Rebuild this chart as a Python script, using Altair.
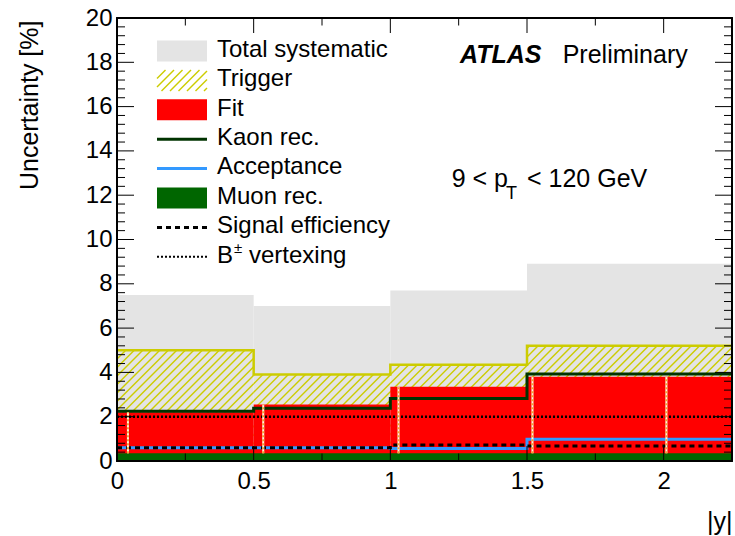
import altair as alt
import numpy as np
import pandas as pd

FONT = "Liberation Sans"

# |y| bin edges and per-bin uncertainty of each source [%]
edges = [0.0, 0.5, 1.0, 1.5, 2.25]
total_syst = [7.5, 7.0, 7.7, 8.9]
trigger = [5.0, 3.9, 4.35, 5.2]
fit = [2.2, 2.55, 3.35, 3.8]
kaon_rec = [2.25, 2.38, 2.82, 3.93]
acceptance = [0.6, 0.6, 0.57, 0.98]
muon_rec = [0.35, 0.35, 0.35, 0.35]
signal_eff = [0.6, 0.6, 0.72, 0.68]
b_vertexing = [2.0, 2.0, 2.0, 2.0]
# dotted verticals drawn on the fit band
fit_marker_x = [0.04, 0.535, 1.03, 1.52, 2.01]

x_tick_labels = [0, 0.5, 1, 1.5, 2]
y_tick_labels = list(range(0, 21, 2))

legend_labels = ["Total systematic", "Trigger", "Fit", "Kaon rec.",
                 "Acceptance", "Muon rec.", "Signal efficiency", "B"]

# colours
GRAY = "#e4e4e4"
YELLOW = "#cccc00"
RED = "#ff0000"
KAON = "#003300"
BLUE = "#3399ff"
GREEN = "#006600"

# plot area
W, H = 615, 443
X_MAX, Y_MAX = 2.25, 20

xs = alt.Scale(domain=[0, X_MAX], nice=False, zero=False)
ys = alt.Scale(domain=[0, Y_MAX], nice=False, zero=False)

x_axis = alt.Axis(values=x_tick_labels, format="~g", ticks=False, tickSize=0,
                  domain=False, grid=False, labelFont=FONT, labelFontSize=24,
                  labelColor="black", labelPadding=8, labelFlush=False,
                  labelOverlap=False, title="|y|", titleFont=FONT,
                  titleFontSize=25, titleFontWeight="normal", titleColor="black",
                  titleX=W, titleY=68, titleAlign="right",
                  titleBaseline="alphabetic", titleAnchor="end")
y_axis = alt.Axis(values=y_tick_labels, ticks=False, tickSize=0, domain=False,
                  grid=False, labelFont=FONT, labelFontSize=24,
                  labelColor="black", labelPadding=5, labelFlush=False,
                  labelOverlap=False, title="Uncertainty [%]", titleFont=FONT,
                  titleFontSize=25, titleFontWeight="normal", titleColor="black",
                  titleAngle=-90, titleX=-80, titleY=2, titleAlign="right",
                  titleBaseline="alphabetic", titleAnchor="end")


def X(f):
    return alt.X(f, type="quantitative", scale=xs, axis=x_axis)


def Y(f):
    return alt.Y(f, type="quantitative", scale=ys, axis=y_axis)


bins = pd.DataFrame({
    "lo": edges[:-1], "hi": edges[1:], "zero": 0.0,
    "total": total_syst, "trigger": trigger, "fit": fit, "muon": muon_rec,
})


def band(field, color):
    return alt.Chart(bins).mark_rect(color=color, strokeWidth=0).encode(
        x=X("lo"), x2=alt.X2("hi"), y=Y(field), y2=alt.Y2("zero"))


def step_line(vals, color, width, dash=None):
    df = pd.DataFrame({"x": edges, "v": list(vals) + [vals[-1]]})
    kw = dict(color=color, strokeWidth=width, interpolate="step-after")
    if dash:
        kw["strokeDash"] = dash
    return alt.Chart(df).mark_line(**kw).encode(x=X("x"), y=Y("v"))


# 45-degree hatching of the trigger histogram, clipped to each bin
HATCH_PX = 8.5
px_x, px_y = W / X_MAX, H / Y_MAX
k = px_x / px_y
d = HATCH_PX / px_x
hatch = []
for lo, hi, top in zip(edges[:-1], edges[1:], trigger):
    w = top / k
    for n in range(int(np.floor((lo - w) / d)), int(np.ceil(hi / d)) + 1):
        c = n * d
        a, b = max(lo, c), min(hi, c + w)
        if b > a:
            hatch.append({"x0": a, "y0": k * (a - c), "x1": b, "y1": k * (b - c)})
hatch_df = pd.DataFrame(hatch)

hatch_layer = alt.Chart(hatch_df).mark_rule(color=YELLOW, strokeWidth=1.4).encode(
    x=X("x0"), y=Y("y0"), x2=alt.X2("x1"), y2=alt.Y2("y1"))

# dotted verticals spanning the fit band
fm = []
for xv in fit_marker_x:
    i = min(int(np.searchsorted(edges, xv, side="right")) - 1, len(fit) - 1)
    fm.append({"x": xv, "lo": muon_rec[i], "hi": fit[i]})
fm_df = pd.DataFrame(fm)
fm_base = alt.Chart(fm_df).mark_rule(color="#fff4e0", strokeWidth=2).encode(
    x=X("x"), y=Y("lo"), y2=alt.Y2("hi"))
fm_dots = alt.Chart(fm_df).mark_rule(color="#f0a030", strokeWidth=2,
                                     strokeDash=[2, 2]).encode(
    x=X("x"), y=Y("lo"), y2=alt.Y2("hi"))

# inward ticks on all four sides
y_major = np.arange(0, Y_MAX + 1e-9, 2.0)
y_minor = [v for v in np.arange(0, Y_MAX + 1e-9, 0.4)
           if abs(v / 2.0 - round(v / 2.0)) > 1e-6]
x_major = np.arange(0, X_MAX + 1e-9, 0.5)
x_minor = [v for v in np.arange(0, X_MAX - 1e-9, 0.25)
           if abs(v / 0.5 - round(v / 0.5)) > 1e-6]


def yticks(vals, length):
    df = pd.DataFrame({"v": vals})
    base = alt.Chart(df).mark_rule(color="black", strokeWidth=1)
    return (base.encode(y=Y("v"), x=alt.value(0), x2=alt.value(length))
            + base.encode(y=Y("v"), x=alt.value(W - length), x2=alt.value(W)))


def xticks(vals, length):
    df = pd.DataFrame({"v": vals})
    base = alt.Chart(df).mark_rule(color="black", strokeWidth=1)
    return (base.encode(x=X("v"), y=alt.value(H), y2=alt.value(H - length))
            + base.encode(x=X("v"), y=alt.value(0), y2=alt.value(length)))


frame = alt.Chart(bins).mark_rect(fillOpacity=0, stroke="black",
                                  strokeWidth=1.5).encode(
    x=alt.value(0), x2=alt.value(W), y=alt.value(0), y2=alt.value(H))

# legend (pixel positions inside the plot area)
LX0, LX1, LTX = 40, 90, 100
LY0, LDY, BOX_H = 33, 29.4, 21
leg = pd.DataFrame({"label": legend_labels, "row": range(len(legend_labels))})
leg["yc"] = LY0 + leg["row"] * LDY
leg["ytop"] = leg["yc"] - BOX_H / 2
leg["ybot"] = leg["yc"] + BOX_H / 2
leg["ybase"] = leg["yc"] + 5.7
leg["fill"] = [GRAY, "none", RED, KAON, BLUE, GREEN, "black", "black"]

leg_boxes = alt.Chart(leg[leg["row"].isin([0, 2, 5])]).mark_rect(strokeWidth=0).encode(
    x=alt.value(LX0), x2=alt.value(LX1),
    y=alt.Y("ytop:Q", scale=None), y2=alt.Y2("ybot"),
    color=alt.Color("fill:N", scale=None))
leg_solid = alt.Chart(leg[leg["row"].isin([3, 4])]).mark_rule(strokeWidth=3).encode(
    x=alt.value(LX0), x2=alt.value(LX1), y=alt.Y("yc:Q", scale=None),
    color=alt.Color("fill:N", scale=None))
leg_dash = alt.Chart(leg[leg["row"] == 6]).mark_rule(
    strokeWidth=3, color="black", strokeDash=[5, 4]).encode(
    x=alt.value(LX0), x2=alt.value(LX1), y=alt.Y("yc:Q", scale=None))
leg_dot = alt.Chart(leg[leg["row"] == 7]).mark_rule(
    strokeWidth=2, color="black", strokeDash=[2, 2]).encode(
    x=alt.value(LX0), x2=alt.value(LX1), y=alt.Y("yc:Q", scale=None))

# hatched legend swatch
trow = leg[leg["row"] == 1].iloc[0]
ht, hb = trow["ytop"], trow["ybot"]
hh = hb - ht
lh = []
c = LX0 - hh
while c < LX1:
    a, b = max(LX0, c), min(LX1, c + hh)
    if b > a:
        lh.append({"px0": a, "py0": hb - (a - c), "px1": b, "py1": hb - (b - c)})
    c += HATCH_PX
leg_hatch = alt.Chart(pd.DataFrame(lh)).mark_rule(color=YELLOW, strokeWidth=1.4).encode(
    x=alt.X("px0:Q", scale=None), y=alt.Y("py0:Q", scale=None),
    x2=alt.X2("px1"), y2=alt.Y2("py1"))

leg_text = alt.Chart(leg).mark_text(
    align="left", baseline="alphabetic", font=FONT, fontSize=24, color="black").encode(
    x=alt.value(LTX), y=alt.Y("ybase:Q", scale=None), text="label:N")

vrow = leg[leg["row"] == 7].iloc[0]
leg_pm = alt.Chart(bins.head(1)).mark_text(
    text="\u00b1", align="left", baseline="alphabetic", font=FONT, fontSize=15,
    color="black").encode(x=alt.value(LTX + 17), y=alt.value(vrow["ybase"] - 10))
leg_vtx = alt.Chart(bins.head(1)).mark_text(
    text="vertexing", align="left", baseline="alphabetic", font=FONT, fontSize=24,
    color="black").encode(x=alt.value(LTX + 32), y=alt.value(vrow["ybase"]))


def label(txt, x, y, size=25, **kw):
    return alt.Chart(bins.head(1)).mark_text(
        text=txt, align="left", baseline="alphabetic", font=FONT,
        fontSize=size, color="black", **kw).encode(x=alt.value(x), y=alt.value(y))


atlas = label("ATLAS", 343, 45.3, fontWeight="bold", fontStyle="italic")
prelim = label("Preliminary", 445.7, 45.3)
pt1 = label("9 < p", 334.7, 168.7)
pt2 = label("T", 389, 180.5, size=18)
pt3 = label("< 120 GeV", 410, 168.7)

chart = alt.layer(
    band("total", GRAY),
    hatch_layer,
    step_line(trigger, YELLOW, 2.5),
    band("fit", RED),
    band("muon", GREEN),
    step_line(kaon_rec, KAON, 3),
    step_line(acceptance, BLUE, 3),
    step_line(signal_eff, "black", 3, dash=[5, 4]),
    step_line(b_vertexing, "black", 2.5, dash=[2, 2]),
    fm_base, fm_dots,
    yticks(y_major, 17), yticks(y_minor, 8),
    xticks(x_major, 15), xticks(x_minor, 7.5),
    frame,
    leg_boxes, leg_hatch, leg_solid, leg_dash, leg_dot, leg_text, leg_pm, leg_vtx,
    atlas, prelim, pt1, pt2, pt3,
).properties(
    width=W, height=H,
    padding={"left": 117, "top": 18, "right": 3, "bottom": 75},
    autosize=alt.AutoSizeParams(type="none"),
    background="white",
).configure_view(stroke=None)

chart.save("out.html", embed_options={"renderer": "svg", "actions": False})
